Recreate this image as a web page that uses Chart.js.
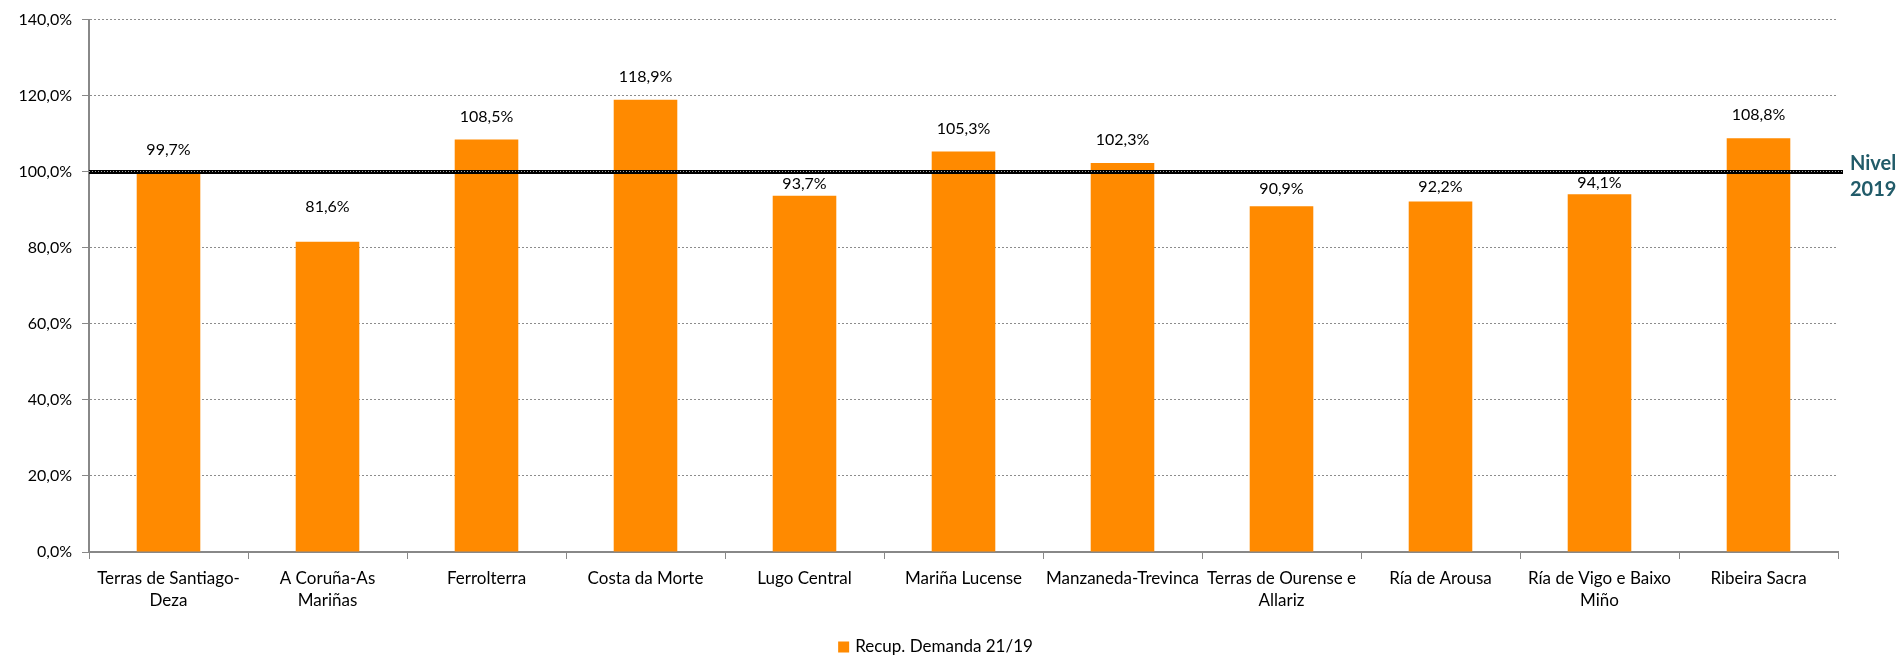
<!DOCTYPE html>
<html>
<head>
<meta charset="utf-8">
<script src="https://cdn.jsdelivr.net/npm/chart.js@4"></script>
<style>
  html, body { margin: 0; padding: 0; background: #fff; }
  #wrap { width: 1901px; height: 656px; position: relative; }
</style>
</head>
<body>
<div id="wrap"><canvas id="chart"></canvas></div>
<script>
// Categories (multi-line ones split as in the original axis)
const COMARCAS = [
    ['Terras de Santiago-', 'Deza'],
    ['A Coruña-As', 'Mariñas'],
    'Ferrolterra',
    'Costa da Morte',
    'Lugo Central',
    'Mariña Lucense',
    'Manzaneda-Trevinca',
    ['Terras de Ourense e', 'Allariz'],
    'Ría de Arousa',
    ['Ría de Vigo e Baixo', 'Miño'],
    'Ribeira Sacra',
];
const RECUP_DEMANDA = [99.7, 81.6, 108.5, 118.9, 93.7, 105.3, 102.3, 90.9, 92.2, 94.1, 108.8];
const SERIES_LABEL = 'Recup. Demanda 21/19';
const NIVEL_2019 = 100;
const NIVEL_TEXT = ['Nivel', '2019'];
const Y_TICKS = [0, 20, 40, 60, 80, 100, 120, 140];

const FONT = 'Lato, "Liberation Sans", sans-serif';
const ORANGE = '#FF8A00';

const pct = (v) => v.toFixed(1).replace('.', ',') + '%';

// value labels above each bar; ones that would sit on the 2019 line are
// tucked in between the line and the bar top, like the original.
const barLabels = {
    id: 'barLabels',
    afterDraw(chart) {
        const ctx = chart.ctx;
        const meta = chart.getDatasetMeta(0);
        const lineY = chart.scales.y.getPixelForValue(NIVEL_2019);
        ctx.save();
        ctx.font = '16px ' + FONT;
        ctx.fillStyle = '#000';
        ctx.textAlign = 'center';
        ctx.textBaseline = 'middle';
        meta.data.forEach((bar, i) => {
            let y = bar.y - 23;
            if (y > lineY - 10 && bar.y > lineY) y = (lineY + bar.y) / 2;
            ctx.fillText(pct(RECUP_DEMANDA[i]), bar.x, y);
        });
        ctx.restore();
    },
};

// black reference line at the 2019 level, drawn over the bars
const nivelLine = {
    id: 'nivelLine',
    afterDatasetsDraw(chart) {
        const ctx = chart.ctx;
        const area = chart.chartArea;
        const y = Math.round(chart.scales.y.getPixelForValue(NIVEL_2019));
        const x1 = area.right + 5;
        ctx.save();
        ctx.strokeStyle = '#000';
        ctx.lineWidth = 4;
        ctx.beginPath();
        ctx.moveTo(area.left, y);
        ctx.lineTo(x1, y);
        ctx.stroke();
        ctx.strokeStyle = '#aaa';
        ctx.lineWidth = 1;
        ctx.setLineDash([1, 2]);
        ctx.beginPath();
        ctx.moveTo(area.left, y - 0.5);
        ctx.lineTo(x1, y - 0.5);
        ctx.stroke();
        ctx.setLineDash([]);
        ctx.font = 'bold 20px ' + FONT;
        ctx.fillStyle = '#215B69';
        ctx.textAlign = 'left';
        ctx.textBaseline = 'middle';
        ctx.fillText(NIVEL_TEXT[0], x1 + 7, y - 8);
        ctx.fillText(NIVEL_TEXT[1], x1 + 7, y + 18);
        ctx.restore();
    },
};

// single-entry legend under the plot
const bottomLegend = {
    id: 'bottomLegend',
    afterDraw(chart) {
        const ctx = chart.ctx;
        const ds = chart.data.datasets[0];
        ctx.save();
        ctx.font = '17px ' + FONT;
        const tw = ctx.measureText(ds.label).width;
        const box = 11, gap = 6;
        const total = box + gap + tw;
        const cx = chart.width / 2 - 15;
        const x0 = cx - total / 2;
        const y = 647;
        ctx.fillStyle = ds.backgroundColor;
        ctx.fillRect(x0, y - box / 2, box, box);
        ctx.fillStyle = '#000';
        ctx.textAlign = 'left';
        ctx.textBaseline = 'middle';
        ctx.fillText(ds.label, x0 + box + gap, y);
        ctx.restore();
    },
};

new Chart(document.getElementById('chart'), {
    type: 'bar',
    data: {
        labels: COMARCAS,
        datasets: [{
            label: SERIES_LABEL,
            data: RECUP_DEMANDA,
            backgroundColor: ORANGE,
            borderWidth: 0,
            barPercentage: 0.8,
            categoryPercentage: 0.5,
        }],
    },
    options: {
        responsive: true,
        maintainAspectRatio: false,
        animation: false,
        layout: { padding: { top: 8, right: 63, left: 0, bottom: 0 } },
        scales: {
            x: {
                grid: { drawOnChartArea: false, tickLength: 7, tickColor: '#888', offset: true },
                border: { color: '#888', width: 2 },
                ticks: { color: '#000', font: { family: FONT, size: 17, lineHeight: 1.3 }, maxRotation: 0, autoSkip: false, padding: 8 },
                afterFit(scale) { scale.height = 104; },
            },
            y: {
                min: 0,
                max: 140,
                afterBuildTicks(scale) { scale.ticks = Y_TICKS.map((v) => ({ value: v })); },
                grid: { color: '#8c8c8c', tickLength: 7, tickColor: '#888', tickBorderDash: [] },
                border: { color: '#888', width: 2, dash: [2, 2] },
                ticks: { color: '#000', font: { family: FONT, size: 16 }, padding: 10, callback: (v) => pct(v) },
                afterFit(scale) { scale.width = 89; },
            },
        },
        plugins: {
            legend: { display: false },
            tooltip: { enabled: false },
        },
    },
    plugins: [nivelLine, barLabels, bottomLegend],
});
</script>
</body>
</html>
